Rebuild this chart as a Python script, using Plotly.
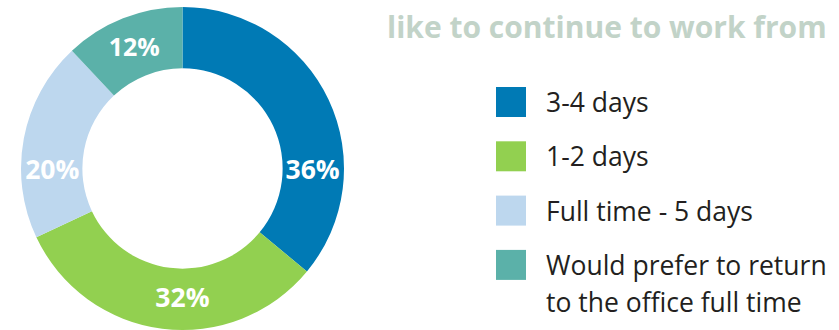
import plotly.graph_objects as go

categories = ["3-4 days", "1-2 days", "Full time - 5 days",
              "Would prefer to return<br>to the office full time"]
values = [36, 32, 20, 12]
colors = ["#007ab5", "#92d050", "#bdd7ee", "#5bb1a9"]
title_text = "like to continue to work from"

W, H = 839, 330
FONT = "Open Sans"

fig = go.Figure()
fig.add_trace(go.Pie(
    labels=[c.replace("<br>", " ") for c in categories],
    values=values,
    marker=dict(colors=colors, line=dict(width=0)),
    hole=0.62,
    sort=False,
    direction="clockwise",
    rotation=0,
    texttemplate="%{value}%",
    textposition="inside",
    insidetextorientation="horizontal",
    textfont=dict(family=FONT, size=26.5, color="white", weight="bold"),
    showlegend=False,
    domain=dict(x=[21 / W, 344 / W], y=[0, 323 / H]),
    hoverinfo="label+value",
))

# manual legend
sq_x0, sq_size, gap, first_top, step = 496, 30, 18, 87, 54.3
line_h = 37
for i, (lab, col) in enumerate(zip(categories, colors)):
    top = first_top + i * step
    fig.add_shape(type="rect", xref="paper", yref="paper",
                  x0=sq_x0 / W, x1=(sq_x0 + sq_size) / W,
                  y0=1 - (top + sq_size) / H, y1=1 - top / H,
                  fillcolor=col, line=dict(width=0))
    for j, line in enumerate(lab.split("<br>")):
        cy = top + sq_size / 2 + j * line_h
        fig.add_annotation(x=(sq_x0 + sq_size + gap) / W, y=1 - cy / H,
                           xref="paper", yref="paper", xanchor="left", yanchor="middle",
                           text=line, showarrow=False,
                           font=dict(family=FONT, size=26.5, color="#231f20"))

fig.add_annotation(x=829 / W, y=1 - 27 / H, xref="paper", yref="paper",
                   xanchor="right", yanchor="middle", text=title_text, showarrow=False,
                   font=dict(family=FONT, size=30, color="#c2d3c8", weight="bold"))

fig.update_layout(width=W, height=H, margin=dict(l=0, r=0, t=0, b=0),
                  paper_bgcolor="white", plot_bgcolor="white")
fig.write_html("out.html")
